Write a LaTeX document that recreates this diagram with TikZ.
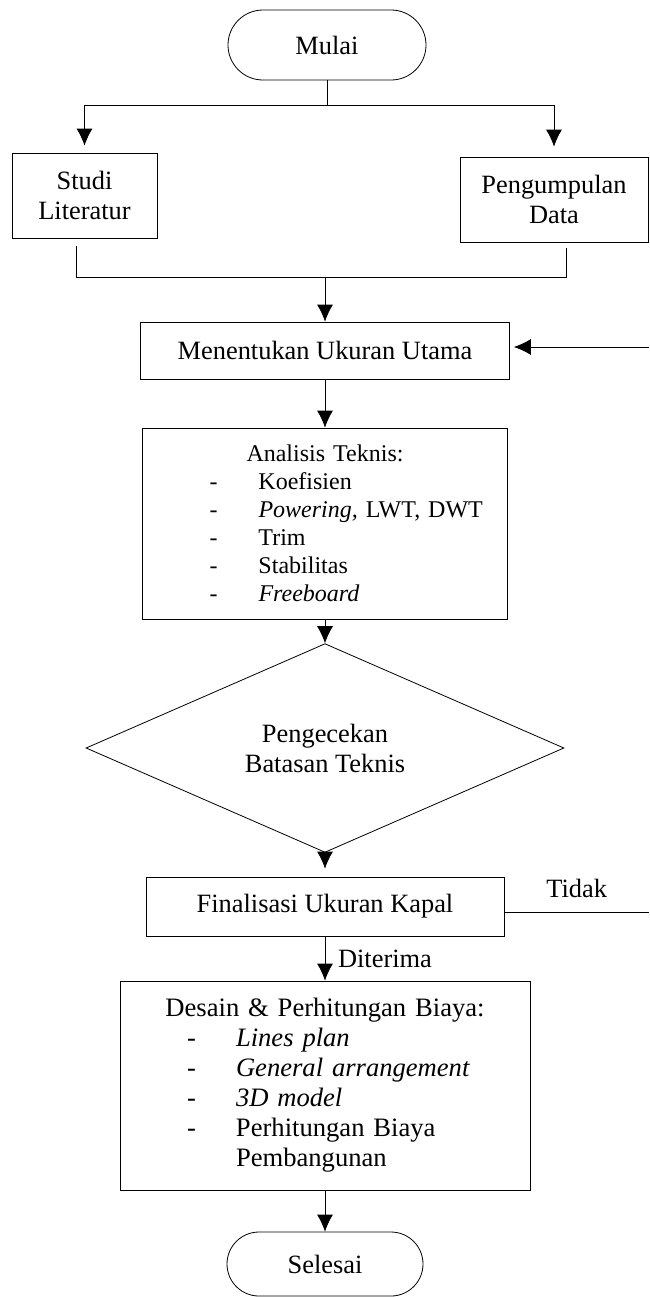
\documentclass[tikz,border=0pt]{standalone}
\usepackage{fontspec}
\setmainfont{Liberation Serif}
\usetikzlibrary{shapes,arrows.meta,calc,positioning}
\tikzset{
    -{Latex[length=8.5pt,width=8pt]},line width=0.8pt,
    terminal/.style ={rectangle, draw, rounded corners=17.5pt, minimum width=99pt, minimum height=35pt},
    process/.style ={rectangle, draw, align=center, inner sep=0pt},
    decision/.style ={diamond, draw, align=center, inner sep=0pt, minimum width=239pt, minimum height=83pt}
}
\newcommand{\poin}[1]{\makebox[\linewidth][l]{\hspace*{33.5pt}\makebox[24.5pt][l]{-}#1}}

\begin{document}
\begin{tikzpicture}[x=0.5pt,y=-0.5pt,font=\fontsize{13.2}{15}\selectfont]
	\useasboundingbox (0,0) rectangle (649,1297);
	\node[terminal] (mulai) at (327,45) {Mulai};
	\node[process, minimum width=72.5pt, minimum height=42.5pt] (studi) at (84.5,195.5) {Studi\\Literatur};
	\node[process, minimum width=94pt, minimum height=42.5pt] (data) at (554,199.5) {Pengumpulan\\Data};
	\node[process, minimum width=184.5pt, minimum height=28.5pt] (ukuran) at (325,350.5) {Menentukan Ukuran Utama};
	\node[process, text width=182.5pt, minimum height=95.5pt, font=\fontsize{12}{14}\selectfont] (teknis) at (325,523.5)
		{Analisis Teknis:\\ \poin{Koefisien}\\ \poin{\textit{Powering,} LWT, DWT}\\ \poin{Trim}\\ \poin{Stabilitas}\\ \poin{\textit{Freeboard}}};
	\node[decision] (cek) at (325,748) {Pengecekan\\Batasan Teknis};
	\node[process, minimum width=179pt, minimum height=29.5pt] (final) at (325,906.5) {Finalisasi Ukuran Kapal};
	\node[process, text width=205pt, minimum height=104.5pt, font=\fontsize{13.3}{15}\selectfont] (desain) at (325,1085.5)
		{Desain \& Perhitungan Biaya:\\ \poin{\textit{Lines plan}}\\ \poin{\textit{General arrangement}}\\ \poin{\textit{3D model}}\\ \poin{Perhitungan Biaya}\\ \makebox[\linewidth][l]{\hspace*{58pt}Pembangunan}};
	\node[terminal, minimum width=98pt, minimum height=32pt, rounded corners=16pt] (selesai) at (325,1264) {Selesai};

	% titik bantu
	\coordinate (cabang) at (327,105);
	\coordinate (gabung) at (325,277);
	\coordinate (balik1) at (649,912.5);
	\coordinate (balik2) at (649,347);

	\draw[-] (mulai.south) -- (cabang);
	\draw[shorten >=3.5pt] (cabang) -| (studi);
	\draw[shorten >=5pt] (cabang) -| (data);
	\draw[-, shorten <=4pt] ([xshift=-4pt]studi.south) |- (gabung);
	\draw[-, shorten <=3pt] ([xshift=6pt]data.south) |- (gabung);
	\draw (gabung) -- (ukuran);
	\draw (ukuran) -- (teknis);
	\draw (teknis) -- (cek);
	\draw[shorten >=4pt] (cek) -- (final);
	\draw (final) -- node[right=3pt] {Diterima} (desain);
	\draw (desain) -- (selesai);
	% umpan balik
	\draw[-] ([yshift=-3pt]final.east) -- node[above=4pt] {Tidak} (balik1);
	\draw[shorten >=2pt] (balik2) -- ([yshift=1.75pt]ukuran.east);
\end{tikzpicture}
\end{document}
